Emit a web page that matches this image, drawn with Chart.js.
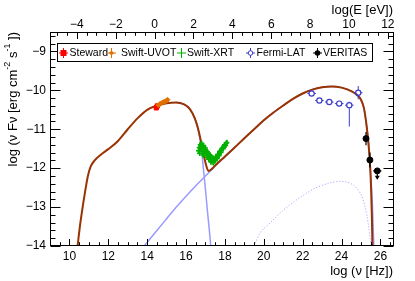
<!DOCTYPE html>
<html><head><meta charset="utf-8">
<script src="https://cdn.jsdelivr.net/npm/chart.js@4/dist/chart.umd.min.js"></script>
<style>html,body{margin:0;padding:0;background:#fff;}canvas{display:block;}</style>
</head><body>
<canvas id="c" width="415" height="281" style="width:415px;height:281px"></canvas>
<script>
// ---------- tick labels ----------
const xTicks = [10,12,14,16,18,20,22,24,26];
const eTicks = [-4,-2,0,2,4,6,8,10,12];
const yTicks = [-14,-13,-12,-11,-10,-9];
const LOG_HZ_PER_EV = 14.383;

// ---------- model curves (log nu, log nuFnu) ----------
const totalX = [10.42,10.55,10.65,10.8,10.95,11.1,11.3,11.6,12.0,12.5,13.0,13.5,14.0,14.5,15.0,15.5,15.9,16.2,16.45,16.6,16.72,16.89,17.06,17.15,17.3,17.6,18.0,18.5,19.0,19.5,20.0,20.5,21.0,21.5,22.0,22.5,23.0,23.5,24.0,24.5,24.8,25.0,25.15,25.3,25.4,25.47,25.52,25.56,25.59];
const totalY = [-14.0,-13.45,-13.1,-12.62,-12.2,-11.95,-11.8,-11.66,-11.51,-11.3,-11.0,-10.72,-10.5,-10.39,-10.33,-10.31,-10.36,-10.48,-10.72,-10.95,-11.2,-11.62,-11.97,-12.07,-12.03,-11.88,-11.7,-11.47,-11.23,-11.0,-10.77,-10.57,-10.39,-10.22,-10.08,-9.98,-9.92,-9.9,-9.93,-10.02,-10.12,-10.24,-10.45,-10.95,-11.45,-11.95,-12.5,-13.2,-14.0];

const synX = [15.5,15.9,16.2,16.45,16.6,16.7,16.8,16.9,17.0,17.1,17.2,17.27];
const synY = [-10.31,-10.36,-10.48,-10.72,-10.97,-11.2,-11.55,-12.05,-12.55,-13.1,-13.6,-14.0];

const sscX = [13.85,14.5,15.0,15.5,16.0,16.5,17.0,17.3,17.6,18.0,18.5,19.0,19.5,20.0,20.5,21.0,21.5,22.0,22.5,23.0,23.5,24.0,24.5,24.8,25.0,25.15,25.3,25.42,25.52,25.6,25.66];
const sscY = [-14.0,-13.6,-13.3,-13.0,-12.72,-12.45,-12.2,-12.05,-11.9,-11.71,-11.47,-11.23,-11.0,-10.77,-10.57,-10.39,-10.22,-10.08,-9.98,-9.92,-9.9,-9.93,-10.02,-10.12,-10.24,-10.45,-10.95,-11.5,-12.3,-13.1,-14.0];

const dotX = [19.5,19.8,20.3,21.0,21.9,22.7,23.4,23.9,24.4,24.8,25.1,25.3,25.45,25.52];
const dotY = [-14.0,-13.67,-13.42,-13.08,-12.74,-12.5,-12.38,-12.34,-12.38,-12.52,-12.8,-13.2,-13.7,-14.0];

// ---------- measurements ----------
const stewardX = [14.47,14.52];
const stewardY = [-10.45,-10.40];

const uvotX = [14.58,14.66,14.74,14.82,14.90,14.98,15.05];
const uvotY = [-10.38,-10.35,-10.33,-10.30,-10.29,-10.27,-10.24];
const uvotErr = 0.03;

const xrtX = [16.64,16.68,16.70,16.73,16.75,16.78,16.80,16.83,16.86,16.88,16.90,16.93,16.96,16.98,17.00,17.03,17.06,17.08,17.10,17.13,17.16,17.18,17.20,17.23,17.26,17.28,17.30,17.34,17.38,17.40,17.42,17.46,17.50,17.53,17.55,17.60,17.63,17.65,17.70,17.73,17.75,17.80,17.83,17.86,17.92,17.95,17.98,18.04,18.07,18.10];
const xrtY = [-11.55,-11.47,-11.62,-11.40,-11.52,-11.45,-11.36,-11.45,-11.58,-11.66,-11.42,-11.50,-11.62,-11.56,-11.48,-11.55,-11.66,-11.72,-11.58,-11.70,-11.62,-11.78,-11.72,-11.66,-11.78,-11.84,-11.70,-11.80,-11.74,-11.86,-11.84,-11.76,-11.80,-11.72,-11.70,-11.76,-11.66,-11.64,-11.68,-11.58,-11.56,-11.60,-11.52,-11.48,-11.50,-11.44,-11.40,-11.42,-11.36,-11.34];
const xrtErr = 0.07;

const fermiX = [22.46,22.86,23.37,23.88,24.40,24.86];
const fermiY = [-10.08,-10.26,-10.30,-10.34,-10.38,-10.06];
const fermiXErr = [0.22,0.22,0.22,0.22,0.22,0.22];
const fermiYLo = [0.05,0.06,0.06,0.07,0.55,0.17];
const fermiYHi = [0.05,0.06,0.06,0.07,0.09,0.17];

const veritasX = [25.26,25.46,25.84];
const veritasY = [-11.24,-11.79,-12.07];
const veritasXErr = [0,0,0.21];
const veritasYLo = [0.17,0.19,0.2];
const veritasYHi = [0.17,0.19,0.04];
const veritasUL = [false,false,true];

const legendLabels = ['Steward','Swift-UVOT','Swift-XRT','Fermi-LAT','VERITAS'];

// ---------- helpers ----------
const F = '"Liberation Sans", Arial, Helvetica, sans-serif';
const fmt = v => (v < 0 ? '\u2212' : '') + Math.abs(v);
const pts = (xa, ya) => xa.map((x, i) => ({x, y: ya[i]}));
const val = (a, i) => Array.isArray(a) ? a[i] : (a || 0);

const BROWN = '#993300', LBLUE = '#9a9aff';
const RED = '#ff0000', ORANGE = '#e07000', GREEN = '#00b000', FBLUE = '#3c3cc8', BLACK = '#000000';

function curve(xa, ya, color, w, dash, order) {
  return {data: pts(xa, ya), showLine: true, borderColor: color, borderWidth: w,
    borderDash: dash || [], pointRadius: 0, fill: false,
    cubicInterpolationMode: 'monotone', order};
}
function marks(xa, ya, style, r, fill, stroke, bw, err, order) {
  return {data: pts(xa, ya), showLine: false, pointStyle: style, pointRadius: r,
    pointBackgroundColor: fill, pointBorderColor: stroke, pointBorderWidth: bw,
    pointHoverRadius: r, err, order};
}

function drawTicks(ctx, segs) {
  ctx.save();
  ctx.strokeStyle = '#000'; ctx.lineWidth = 1;
  ctx.beginPath();
  segs.forEach(s => { ctx.moveTo(s[0], s[1]); ctx.lineTo(s[2], s[3]); });
  ctx.stroke();
  ctx.restore();
}

const rootPlugin = {
  id: 'rootStyle',
  beforeDatasetDraw(chart, args) {
    const ds = chart.data.datasets[args.index];
    const e = ds.err; if (!e) return;
    const ctx = chart.ctx, xs = chart.scales.x, ys = chart.scales.y, ca = chart.chartArea;
    ctx.save();
    ctx.beginPath(); ctx.rect(ca.left, ca.top, ca.width, ca.height); ctx.clip();
    ctx.strokeStyle = e.color; ctx.fillStyle = e.color; ctx.lineWidth = e.lw || 1;
    ds.data.forEach((p, i) => {
      const px = xs.getPixelForValue(p.x), py = ys.getPixelForValue(p.y);
      const g = e.gap || 0;
      const xl = xs.getPixelForValue(p.x - val(e.xe, i)), xr = xs.getPixelForValue(p.x + val(e.xe, i));
      const yt = ys.getPixelForValue(p.y + val(e.yhi, i)), yb = ys.getPixelForValue(p.y - val(e.ylo, i));
      ctx.beginPath();
      if (xr - px > g) { ctx.moveTo(xl, py); ctx.lineTo(px - g, py); ctx.moveTo(px + g, py); ctx.lineTo(xr, py); }
      if (py - yt > g) { ctx.moveTo(px, yt); ctx.lineTo(px, py - g); }
      if (yb - py > g) { ctx.moveTo(px, py + g); ctx.lineTo(px, yb); }
      ctx.stroke();
      if (e.ul && e.ul[i]) {
        ctx.beginPath(); ctx.moveTo(px - 2.5, yb - 3); ctx.lineTo(px + 2.5, yb - 3); ctx.lineTo(px, yb + 1); ctx.closePath(); ctx.fill();
      }
    });
    ctx.restore();
  },
  afterDraw(chart) {
    const ctx = chart.ctx, ca = chart.chartArea;
    const xs = chart.scales.x, ys = chart.scales.y, es = chart.scales.x2;
    const L0 = Math.round(ca.left) + 0.5, R0 = Math.round(ca.right) - 0.5;
    const T0 = Math.round(ca.top) + 0.5, B0 = Math.round(ca.bottom) - 0.5;
    const segs = [];
    // bottom ticks (log nu): every 0.5, major every 2
    for (let k = Math.ceil(xs.min * 2); k <= Math.floor(xs.max * 2); k++) {
      const x = Math.round(xs.getPixelForValue(k / 2)) + 0.5, L = (k % 4 === 0) ? 6.5 : 3.3;
      segs.push([x, B0, x, B0 - L]);
    }
    // top ticks (log E)
    for (let k = Math.ceil(es.min * 2); k <= Math.floor(es.max * 2); k++) {
      const x = Math.round(es.getPixelForValue(k / 2)) + 0.5, L = (k % 4 === 0) ? 6.5 : 3.3;
      segs.push([x, T0, x, T0 + L]);
    }
    // left/right ticks: every 0.2, major every 1
    for (let k = Math.ceil(ys.min * 5 - 1e-6); k <= Math.floor(ys.max * 5 + 1e-6); k++) {
      const y = Math.round(ys.getPixelForValue(k / 5)) + 0.5, L = (k % 5 === 0) ? 10 : 5;
      segs.push([L0, y, L0 + L, y]);
      segs.push([R0, y, R0 - L, y]);
    }
    drawTicks(ctx, segs);

    ctx.save();
    ctx.strokeStyle = '#000'; ctx.lineWidth = 1;
    ctx.strokeRect(L0, T0, R0 - L0, B0 - T0);

    // axis titles
    ctx.fillStyle = '#000';
    ctx.font = '13px ' + F; ctx.textBaseline = 'middle'; ctx.textAlign = 'right';
    ctx.fillText('log (\u03bd [Hz])', ca.right - 1, 271);
    ctx.fillText('log(E [eV])', ca.right - 1, 10);
    // y title with superscripts
    const parts = [['log (\u03bd F\u03bd [erg cm', 13, 0], ['-2', 9, -5], [' s', 13, 0], ['-1', 9, -5], [' ])', 13, 0]];
    let W = 0;
    parts.forEach(p => { ctx.font = p[1] + 'px ' + F; W += ctx.measureText(p[0]).width; });
    ctx.translate(13, 0); ctx.rotate(-Math.PI / 2);
    ctx.textAlign = 'left';
    let u = -ca.top - W;
    parts.forEach(p => { ctx.font = p[1] + 'px ' + F; ctx.fillText(p[0], u, p[2]); u += ctx.measureText(p[0]).width; });
    ctx.setTransform(1, 0, 0, 1, 0, 0);

    // legend
    const bx = 57.5, by = 43.5, bw = 315, bh = 18;
    ctx.fillStyle = '#fff'; ctx.fillRect(bx, by, bw, bh);
    ctx.strokeStyle = '#000'; ctx.strokeRect(bx, by, bw, bh);
    const mx = [63.5, 111.5, 181.5, 250.5, 317.5], tx = [69.5, 121, 187, 256.5, 323];
    const cols = [RED, ORANGE, GREEN, FBLUE, BLACK];
    const cy = 53;
    ctx.font = '10.5px ' + F; ctx.textAlign = 'left'; ctx.textBaseline = 'middle';
    legendLabels.forEach((lab, i) => {
      const c = cols[i], x = mx[i];
      ctx.strokeStyle = c; ctx.fillStyle = c; ctx.lineWidth = 1;
      ctx.beginPath(); ctx.moveTo(x - 4.5, cy); ctx.lineTo(x + 4.5, cy); ctx.moveTo(x, cy - 5); ctx.lineTo(x, cy + 5); ctx.stroke();
      if (i === 0) ctx.fillRect(x - 3, cy - 3, 6, 6);
      if (i === 1) { ctx.beginPath(); ctx.moveTo(x, cy - 2.5); ctx.lineTo(x + 2.5, cy); ctx.lineTo(x, cy + 2.5); ctx.lineTo(x - 2.5, cy); ctx.closePath(); ctx.fill(); }
      if (i === 3) { ctx.fillStyle = '#fff'; ctx.beginPath(); ctx.arc(x, cy, 2.3, 0, 2 * Math.PI); ctx.fill(); ctx.stroke(); }
      if (i === 4) { ctx.beginPath(); ctx.arc(x, cy, 2.8, 0, 2 * Math.PI); ctx.fill(); }
      ctx.fillStyle = '#000';
      ctx.fillText(lab, tx[i], cy + 0.5);
    });
    ctx.restore();
  }
};

const tickFont = {family: F, size: 12};
const noGrid = {display: false, drawTicks: false, tickLength: 0};

new Chart(document.getElementById('c'), {
  type: 'scatter',
  data: {
    datasets: [
      marks(veritasX, veritasY, 'circle', 3, BLACK, BLACK, 1,
        {xe: veritasXErr, ylo: veritasYLo, yhi: veritasYHi, ul: veritasUL, color: BLACK, lw: 1.2}, 1),
      marks(fermiX, fermiY, 'circle', 2.6, 'rgba(255,255,255,0)', FBLUE, 1.2,
        {xe: fermiXErr, ylo: fermiYLo, yhi: fermiYHi, color: FBLUE, lw: 1, gap: 2.6}, 2),
      marks(xrtX, xrtY, 'cross', 2.5, GREEN, GREEN, 1.5,
        {xe: 0.02, ylo: xrtErr, yhi: xrtErr, color: GREEN, lw: 1.3}, 3),
      marks(uvotX, uvotY, 'rectRot', 2.4, ORANGE, ORANGE, 1,
        {xe: uvotErr, ylo: uvotErr, yhi: uvotErr, color: ORANGE, lw: 1}, 4),
      marks(stewardX, stewardY, 'rect', 3, RED, RED, 1, null, 5),
      curve(totalX, totalY, BROWN, 2, null, 6),
      curve(synX, synY, LBLUE, 1.5, null, 7),
      curve(sscX, sscY, LBLUE, 1.5, null, 8),
      curve(dotX, dotY, LBLUE, 1, [1, 2], 9)
    ]
  },
  options: {
    responsive: false, animation: false, devicePixelRatio: 1,
    layout: {padding: {left: 0, right: 21, top: 0, bottom: 0}},
    plugins: {legend: {display: false}, tooltip: {enabled: false}},
    events: [],
    scales: {
      x: {type: 'linear', position: 'bottom', min: 9, max: 26.7,
        afterBuildTicks: s => { s.ticks = xTicks.map(v => ({value: v})); },
        afterFit: s => { s.height = 35; },
        grid: noGrid, border: {display: false},
        ticks: {color: '#000', font: tickFont, padding: 3, maxRotation: 0, autoSkip: false, callback: fmt}},
      x2: {type: 'linear', position: 'top', min: 9 - LOG_HZ_PER_EV, max: 26.7 - LOG_HZ_PER_EV,
        afterBuildTicks: s => { s.ticks = eTicks.map(v => ({value: v})); },
        afterFit: s => { s.height = 32; },
        grid: noGrid, border: {display: false},
        ticks: {color: '#000', font: tickFont, padding: 0, maxRotation: 0, autoSkip: false, callback: fmt}},
      y: {type: 'linear', position: 'left', min: -14, max: -8.5,
        afterBuildTicks: s => { s.ticks = yTicks.map(v => ({value: v})); },
        afterFit: s => { s.width = 50; },
        grid: noGrid, border: {display: false},
        ticks: {color: '#000', font: tickFont, padding: 4, autoSkip: false, callback: fmt}}
    }
  },
  plugins: [rootPlugin]
});
</script>
</body></html>
